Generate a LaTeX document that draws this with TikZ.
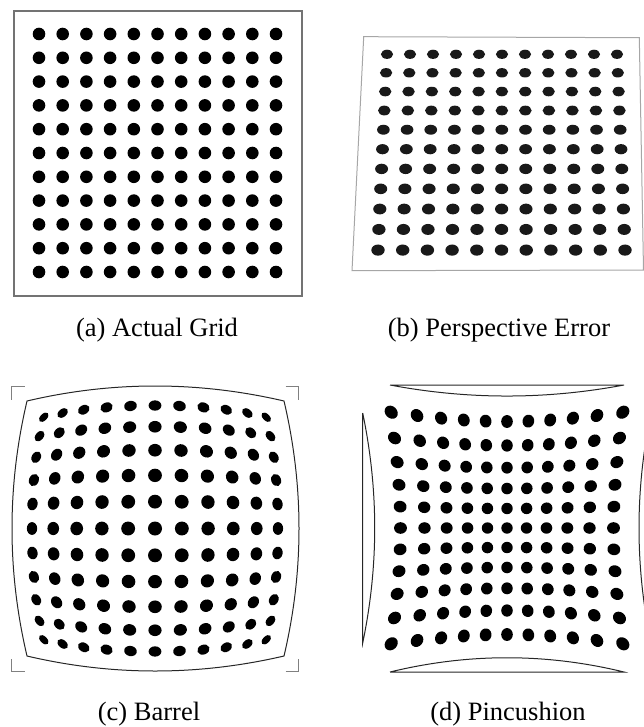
\documentclass[tikz,border=0pt]{standalone}
\usepackage{fontspec}
\setmainfont{Liberation Serif}
\usepackage{tikz}
\tikzset{
  gdot/.style  ={fill=black},
  pframe/.style={draw=black!55, line width=1.2pt},
  rim/.style   ={draw=black!85, line width=1pt},
  corner/.style={draw=black!50, line width=0.8pt},
  lbl/.style   ={font=\fontsize{26.5}{30}\selectfont, anchor=base, inner sep=0pt},
}
\begin{document}
\begin{tikzpicture}[x=1pt, y=-1pt]
\useasboundingbox (0,0) rectangle (644,727);

% (a) actual grid
\draw[pframe] (14,11) rectangle (302,296);
\foreach \i in {0,...,10}
  \foreach \j in {0,...,10}
    \fill[gdot] (39+23.7*\i, 34+23.8*\j) circle (6.3);
\node[lbl] (lbla) at (157,336) {(a) Actual Grid};

% (b) perspective error
\draw[pframe, draw=black!35, line width=1pt] (363.7,36.7) -- (639.3,37.7) -- (643.5,270) -- (352,270.7) -- cycle;
\foreach \j in {0,...,10} {
  \pgfmathsetmacro\yy{54.3+18.5*\j+0.12*\j*(\j-1)}
  \pgfmathsetmacro\xl{387-0.9*\j}
  \pgfmathsetmacro\xr{617+0.8*\j}
  \pgfmathsetmacro\ry{4.6+0.1*\j}
  \pgfmathsetmacro\rx{6.1+0.06*\j}
  \foreach \i in {0,...,10}
    \fill[gdot, black!90] ({\xl+(\xr-\xl)*\i/10}, \yy) ellipse [x radius=\rx, y radius=\ry];
}
\node[lbl] (lblb) at (499,336) {(b) Perspective Error};

% (c) barrel
\draw[corner] (24.7,386.7) -- (11.7,386.7) -- (11.7,399.7);
\draw[corner] (285.5,386.7) -- (298.5,386.7) -- (298.5,399.7);
\draw[corner] (24.7,671.7) -- (11.7,671.7) -- (11.7,658.7);
\draw[corner] (285.5,671.7) -- (298.5,671.7) -- (298.5,658.7);
\draw[rim] (27,401) .. controls (112,381) and (198,381) .. (284,401)
  .. controls (304,486) and (304,571) .. (284,656)
  .. controls (198,676) and (112,676) .. (27,656)
  .. controls (7,571) and (7,486) .. (27,401) -- cycle;
\foreach \i in {0,...,10}
  \foreach \j in {0,...,10} {
    \pgfmathsetmacro\uu{(\i-5)/5}
    \pgfmathsetmacro\vv{(\j-5)/5}
    \pgfmathsetmacro\rr{\uu*\uu+\vv*\vv}
    \pgfmathsetmacro\ff{1-0.087*\rr}
    \pgfmathsetmacro\px{155+134.7*\uu*\ff}
    \pgfmathsetmacro\py{528.5+134.7*\vv*\ff}
    \pgfmathsetmacro\ang{atan2(-\vv,\uu+0.0001)}
    \pgfmathsetmacro\ra{7*(1-3*0.087*\rr)}
    \pgfmathsetmacro\rt{7*\ff}
    \fill[gdot, shift={(\px,\py)}, rotate=\ang] (0,0) ellipse [x radius=\ra, y radius=\rt];
  }
\node[lbl] (lblc) at (149,720) {(c) Barrel};

% (d) pincushion
\begin{scope}
\clip (0,0) rectangle (644,727);
\draw[rim] (390,385) -- (624,385) .. controls (546,399.7) and (468,399.7) .. (390,385);
\draw[rim] (390,672) -- (624,672) .. controls (546,653) and (468,653) .. (390,672);
\draw[rim] (362.7,413) -- (362.7,643) .. controls (378.7,566) and (378.7,490) .. (362.7,413);
\draw[rim] (651,413) -- (651,643) .. controls (635,566) and (635,490) .. (651,413);
\end{scope}
\foreach \i in {0,...,10}
  \foreach \j in {0,...,10} {
    \pgfmathsetmacro\uu{(\i-5)/5}
    \pgfmathsetmacro\vv{(\j-5)/5}
    \pgfmathsetmacro\rr{\uu*\uu+\vv*\vv}
    \pgfmathsetmacro\ff{1+0.0957*\rr}
    \pgfmathsetmacro\px{507+97.2*\uu*\ff}
    \pgfmathsetmacro\py{528+97.2*\vv*\ff}
    \pgfmathsetmacro\ang{atan2(-\vv,\uu+0.0001)}
    \pgfmathsetmacro\ra{5.7*(1+0.13*\rr)}
    \pgfmathsetmacro\rt{5.7*(1+0.02*\rr)}
    \fill[gdot, shift={(\px,\py)}, rotate=\ang] (0,0) ellipse [x radius=\ra, y radius=\rt];
  }
\node[lbl] (lbld) at (508,720) {(d) Pincushion};
\end{tikzpicture}
\end{document}
